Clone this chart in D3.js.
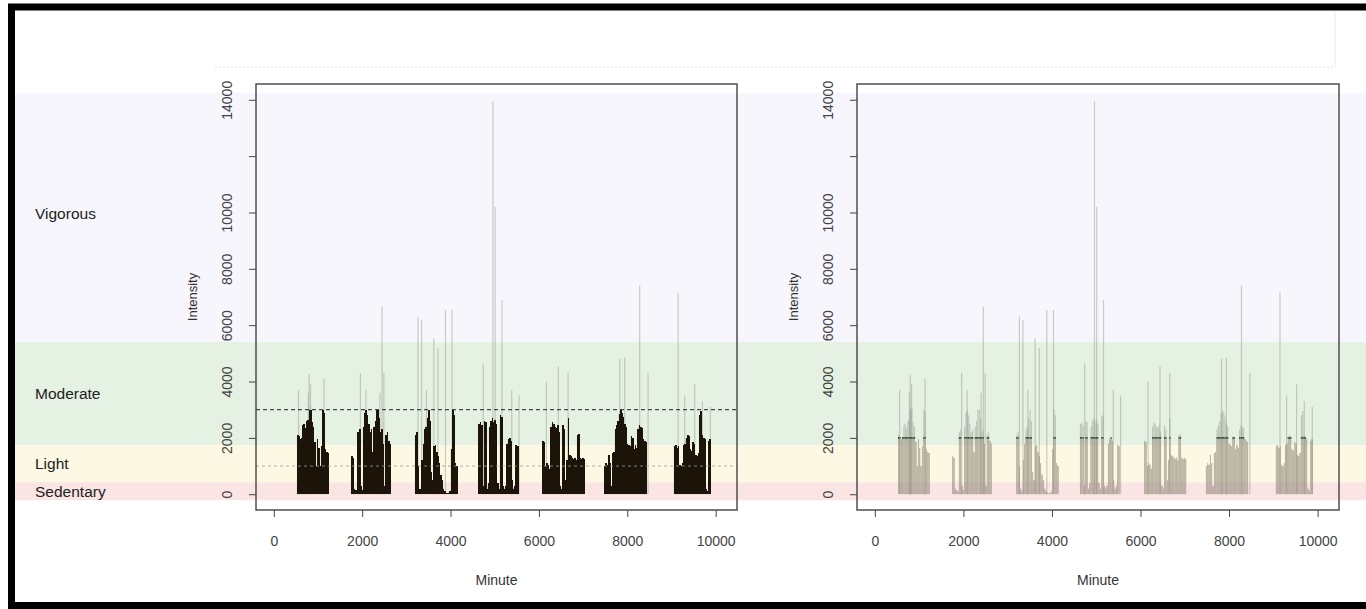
<!DOCTYPE html>
<html>
<head>
<meta charset="utf-8">
<script src="https://cdn.jsdelivr.net/npm/d3@7"></script>
<style>
  body { margin: 0; background: #fff; }
  svg { display: block; font-family: "Liberation Sans", Arial, sans-serif; }
</style>
</head>
<body>
<svg id="chart" width="1366" height="609"></svg>
<script>
// Activity counts, one value per 30-minute epoch, for each waking period
const epochMinutes = 30;
const dayStart = [536, 1758, 3206, 4645, 6093, 7489, 9065];
const day1 = [2100, 2050, 1950, 2000, 2450, 2500, 2350, 2600, 2650, 3000, 3100, 2550, 2400, 1850, 1000, 1950, 1650, 1000, 1700, 3000, 2900, 1600, 1500, 1450];
const day2 = [1350, 1300, 200, 150, 100, 2200, 2300, 300, 150, 2400, 2900, 3000, 2800, 2500, 2200, 2300, 1500, 2400, 2600, 3000, 3000, 2700, 2200, 2300, 1800, 300, 2100, 2200, 1900, 1800];
const day3 = [2100, 2200, 1000, 200, 100, 1200, 1800, 2300, 2400, 2700, 3000, 2600, 800, 500, 1700, 1750, 1500, 1350, 1100, 700, 500, 200, 100, 40, 30, 40, 100, 1600, 3000, 2800, 1100, 1000];
const day4 = [2500, 2550, 2450, 300, 2600, 2550, 200, 400, 2400, 2600, 2700, 2550, 2650, 2500, 400, 200, 2800, 2750, 300, 200, 300, 1800, 1950, 2000, 1900, 500, 200, 300, 1750, 1700];
const day5 = [1900, 1850, 1000, 1100, 1050, 900, 2400, 2550, 2500, 2400, 2350, 2450, 2200, 300, 200, 2450, 2300, 500, 1200, 2700, 1400, 1350, 1300, 1250, 1300, 1200, 2100, 2150, 1300, 1250, 1300, 1250];
const day6 = [1000, 1100, 1050, 1400, 1100, 300, 1450, 1500, 2300, 2450, 2600, 2850, 3000, 2900, 2750, 2500, 2400, 1800, 1750, 1700, 2050, 2000, 1600, 1750, 1650, 2300, 2450, 2400, 2350, 1950, 1900, 1850];
const day7 = [1700, 1750, 1650, 1700, 1050, 1000, 1100, 1750, 1800, 2000, 2100, 2050, 1600, 1550, 1850, 1800, 1400, 1350, 1450, 2800, 2950, 2100, 2000, 1950, 200, 100, 1900, 1950];

// Single-minute peaks
const spikeMinute = [560, 780, 800, 830, 1135, 1960, 2085, 2400, 2450, 2490, 3265, 3345, 3455, 3620, 3715, 3885, 4035, 4740, 4960, 5010, 5165, 5385, 5550, 6170, 6440, 6660, 7830, 7940, 8280, 8470, 9150, 9300, 9525, 9700, 9880];
const spikeValue = [3700, 3600, 4250, 3900, 4100, 4300, 3700, 3600, 6650, 4300, 6300, 6180, 3700, 5540, 5190, 6540, 6540, 4650, 13950, 10200, 6890, 3700, 3500, 4000, 4530, 4300, 4800, 4850, 7400, 4300, 7150, 3500, 3900, 3300, 3100];

const xTicks = [0, 2000, 4000, 6000, 8000, 10000];
const yTicks = [0, 2000, 4000, 6000, 8000, 10000, 12000, 14000];
const yTickLabels = ['0', '2000', '4000', '6000', '8000', '10000', '', '14000'];

const zoneNames = ['Vigorous', 'Moderate', 'Light', 'Sedentary'];
const zoneEdges = [14250, 5400, 1740, 426, -213];
const zoneColors = ['#f6f6fc', '#e5f1e2', '#fdf8e3', '#fae4e4'];

const leftCap = 3000;
const leftGuide = 1000;
const rightCap = 2000;

const svg = d3.select('#chart');
const plotTop = 84, plotBottom = 510;
const panels = [
    { left: 256, right: 737, kind: 'black' },
    { left: 857, right: 1339, kind: 'tan' },
];

const days = [day1, day2, day3, day4, day5, day6, day7];
let samples = [];
days.forEach((vals, i) => {
    vals.forEach((v, j) => samples.push({ minute: dayStart[i] + j * epochMinutes, value: v }));
});
let spikes = spikeMinute.map((m, i) => ({ minute: m, value: spikeValue[i] }));

var y = d3.scaleLinear()
    .domain([-560, 14560])
    .range([plotBottom, plotTop]);

// background intensity zones across the whole figure
svg.selectAll('rect.zone')
    .data(zoneNames)
    .enter()
    .append('rect')
    .attr('class', 'zone')
    .attr('x', 15)
    .attr('width', 1366 - 15)
    .attr('y', (d, i) => y(zoneEdges[i]))
    .attr('height', (d, i) => y(zoneEdges[i + 1]) - y(zoneEdges[i]))
    .style('fill', (d, i) => zoneColors[i]);

svg.selectAll('text.zone-label')
    .data(zoneNames)
    .enter()
    .append('text')
    .attr('class', 'zone-label')
    .attr('x', 35)
    .attr('y', (d, i) => (y(zoneEdges[i]) + y(zoneEdges[i + 1])) / 2 - (i === 0 ? 4 : 0))
    .attr('dy', '0.35em')
    .style('font-size', '15.5px')
    .style('fill', '#222')
    .text(d => d);

// faint leftovers at the top of the figure
svg.append('line')
    .attr('x1', 215).attr('x2', 1335).attr('y1', 67).attr('y2', 67)
    .style('stroke', '#e4e0d2').style('stroke-dasharray', '2,2');
svg.append('line')
    .attr('x1', 1335).attr('x2', 1335).attr('y1', 10).attr('y2', 67)
    .style('stroke', '#ecebe6');

function drawPanel(p) {
    var x = d3.scaleLinear()
        .domain([-403, 10483])
        .range([p.left, p.right]);
    let g = svg.append('g');
    let epochPx = x(epochMinutes) - x(0);

    // raw values, light grey
    g.selectAll('line.raw')
        .data(samples.concat(spikes))
        .enter()
        .append('line')
        .attr('class', 'raw')
        .attr('x1', d => x(d.minute)).attr('x2', d => x(d.minute))
        .attr('y1', y(0)).attr('y2', d => y(d.value))
        .style('stroke', '#8e968c')
        .style('stroke-opacity', 0.45)
        .style('stroke-width', 1.2);

    let cap = p.kind === 'black' ? leftCap : rightCap;
    g.selectAll('rect.cap')
        .data(samples)
        .enter()
        .append('rect')
        .attr('class', 'cap')
        .attr('x', d => x(d.minute) - epochPx / 2)
        .attr('width', p.kind === 'black' ? epochPx + 0.4 : epochPx)
        .attr('y', d => y(Math.min(d.value, cap)))
        .attr('height', d => y(0) - y(Math.min(d.value, cap)))
        .attr('shape-rendering', 'crispEdges')
        .style('fill', p.kind === 'black' ? '#1c1409' : '#9a8670')
        .style('fill-opacity', p.kind === 'black' ? 1 : 0.32);

    if (p.kind === 'black') {
        g.append('line')
            .attr('x1', p.left).attr('x2', p.right)
            .attr('y1', y(leftCap)).attr('y2', y(leftCap))
            .style('stroke', '#222').style('stroke-dasharray', '4,3');
        g.append('line')
            .attr('x1', p.left).attr('x2', p.right)
            .attr('y1', y(leftGuide)).attr('y2', y(leftGuide))
            .style('stroke', '#999').style('stroke-width', 0.8).style('stroke-dasharray', '3,3');
    } else {
        g.selectAll('rect.top')
            .data(samples.filter(d => d.value >= rightCap))
            .enter()
            .append('rect')
            .attr('class', 'top')
            .attr('x', d => x(d.minute) - 0.6)
            .attr('width', 1.2)
            .attr('y', y(rightCap) - 0.8)
            .attr('height', 1.6)
            .style('fill', '#34452e');
    }

    g.append('rect')
        .attr('x', p.left).attr('y', plotTop)
        .attr('width', p.right - p.left).attr('height', plotBottom - plotTop)
        .style('fill', 'none').style('stroke', '#444').style('stroke-width', 1.4);

    let xAxis = g.append('g')
        .attr('transform', `translate(0, ${plotBottom})`)
        .call(d3.axisBottom(x).tickValues(xTicks).tickSize(7).tickPadding(19).tickFormat(d3.format('d')));
    xAxis.select('.domain').remove();

    let yAxis = g.append('g')
        .attr('transform', `translate(${p.left}, 0)`)
        .call(d3.axisLeft(y).tickValues(yTicks).tickSize(7).tickFormat((d, i) => yTickLabels[i]));
    yAxis.select('.domain').remove();
    yAxis.selectAll('text')
        .attr('x', null)
        .attr('dy', '0.35em')
        .attr('text-anchor', 'middle')
        .attr('transform', 'translate(-29, 0) rotate(-90)');

    g.selectAll('.tick line').style('stroke', '#444');
    g.selectAll('.tick text')
        .style('font-family', '"Liberation Sans", Arial, sans-serif')
        .style('font-size', '14px')
        .style('fill', '#444');

    g.append('text')
        .attr('x', (p.left + p.right) / 2)
        .attr('y', 580)
        .attr('dy', '0.35em')
        .attr('text-anchor', 'middle')
        .style('font-size', '14px')
        .style('fill', '#333')
        .text('Minute');

    g.append('text')
        .attr('transform', `translate(${p.left - 64}, ${(plotTop + plotBottom) / 2}) rotate(-90)`)
        .attr('dy', '0.35em')
        .attr('text-anchor', 'middle')
        .style('font-size', '13px')
        .style('fill', '#333')
        .text('Intensity');
}

panels.forEach(drawPanel);

// outer frame, cut off at the right edge
svg.append('path')
    .attr('d', 'M1372,7H11.5V605.5H1372')
    .style('fill', 'none')
    .style('stroke', '#000')
    .style('stroke-width', 7);
</script>
</body>
</html>
